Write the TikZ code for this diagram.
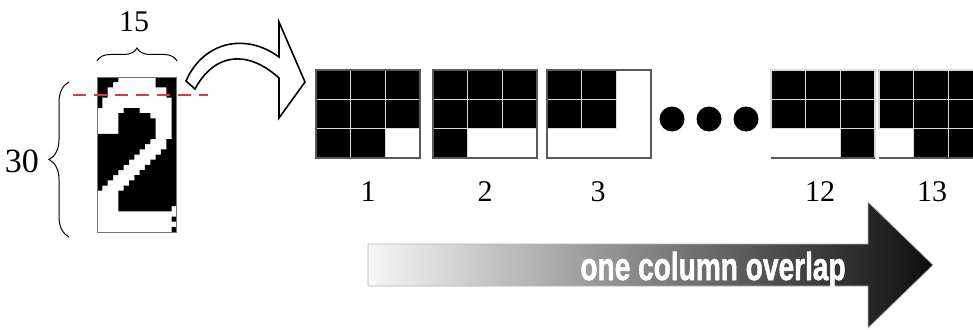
\documentclass[tikz,border=0pt]{standalone}
\usepackage{fontspec}
\setmainfont{Liberation Serif}
\newfontfamily\bannerfont[FakeBold=1.6]{Liberation Sans}
\usepackage{graphicx}
\usepackage{xcolor}
\usepackage{tikz}
\usetikzlibrary{decorations.pathreplacing}
\definecolor{cutred}{RGB}{232,52,64}

\begin{document}
\begin{tikzpicture}[x=1pt,y=-1pt,
  blk/.style={fill=black,draw=gray!30,line width=1.3},
  win/.style={draw=black!65,line width=1.5},
  num/.style={font=\fontsize{30}{36}\selectfont}]
  \useasboundingbox (0,0) rectangle (973,329);
  % the 15x30 digit image
  \begin{scope}[shift={(97,77)},x=5.333pt,y=-5.1667pt]
    \fill foreach \r/\a/\b in {0/0/3,0/11/14,1/0/2,1/11/14,2/0/1,2/13/14,3/0/1,3/13/14,
      4/0/0,4/14/14,5/0/0,5/14/14,6/5/7,6/14/14,7/4/9,7/14/14,8/4/10,8/14/14,
      9/4/10,9/14/14,10/4/10,10/14/14,11/0/10,11/14/14,12/0/9,12/13/14,
      13/0/8,13/13/14,14/0/7,14/12/14,15/0/6,15/11/14,16/0/5,16/10/14,
      17/0/4,17/9/14,18/0/3,18/8/14,19/0/2,19/7/14,20/0/1,20/6/14,21/0/0,21/5/14,
      22/4/14,23/4/14,24/4/14,25/4/13,27/14/14,29/14/14}
      {(\a,\r) rectangle (\b+1,\r+1)};
    \draw[black!55,line width=1] (0,0) rectangle (15,30);
  \end{scope}
  \draw[decorate,decoration={brace,amplitude=13pt},line width=1] (97,61) -- (177,61);
  \node[num] (wd) at (134,22) {15};
  \draw[decorate,decoration={brace,amplitude=20pt},line width=1] (69,237) -- (69,82);
  \node[num,font=\fontsize{34}{40}\selectfont] (ht) at (22,161) {30};
  \draw[cutred,line width=1.8,dash pattern=on 13pt off 8pt] (73,95) -- (208,95);
  % bent arrow
  \draw[fill=white,line width=1.6,line join=miter] (186,81) .. controls (203,42) and (245,32) .. (279,57)
    -- (279,22) -- (305,82) -- (279,118) -- (279,78) .. controls (248,50) and (215,52) .. (195,89) -- cycle;
  % windows
  \foreach \wx/\cells in {316/{0/0,1/0,2/0,0/1,1/1,2/1,0/2,1/2},
      433/{0/0,1/0,2/0,0/1,1/1,2/1,0/2},
      547/{0/0,1/0,0/1,1/1},
      771/{0/0,1/0,2/0,0/1,1/1,2/1,2/2},
      879/{0/0,1/0,2/0,0/1,1/1,2/1,1/2,2/2}}
    \foreach \c/\r in \cells
      \filldraw[blk] (\wx+\c*34.67,70+\r*29.33) rectangle ++(34.67,29.33);
  \foreach \wx in {316,433,547} \draw[win] (\wx,70) rectangle ++(104,88);
  \foreach \wx in {771,879} \draw[win] (\wx,158) -- ++(104,0);
  \foreach \k/\lx in {1/368,2/485,3/598,12/820,13/932}
    \node[num] (lbl\k) at (\lx,192) {\k};
  \foreach \dx in {672,709,746} \fill (\dx,119) circle (12.5);
  % shaded arrow
  \shade[left color=white!97!black,right color=black!95,draw=gray!60,line width=0.8]
    (368,244) -- (868,244) -- (868,202) -- (933,265) -- (868,328) -- (868,286) -- (368,286) -- cycle;
  \node[text=white,font=\bannerfont\bfseries\fontsize{39}{40}\selectfont,anchor=base] (banner)
    at (713,280) {\scalebox{0.72}[1]{one column overlap}};
\end{tikzpicture}
\end{document}
